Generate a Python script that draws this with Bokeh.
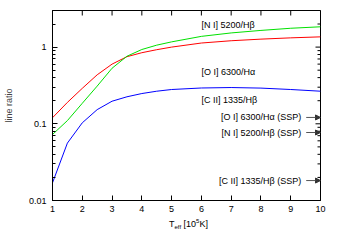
import math
from bokeh.plotting import figure
from bokeh.layouts import column
from bokeh.models import (Range1d, FixedTicker, Label, Arrow, NormalHead, Div,
                          ColumnDataSource, CustomJSTickFormatter)
from bokeh.embed import file_html
from bokeh.resources import INLINE

# ---- data ----
t_eff = [1, 1.5, 2, 2.5, 3, 3.5, 4, 4.5, 5, 6, 7, 8, 9, 10]
oi_ha = [0.12, 0.19, 0.29, 0.435, 0.6, 0.75, 0.845, 0.925, 1.0, 1.13, 1.21, 1.27, 1.32, 1.36]
ni_hb = [0.0725, 0.11, 0.185, 0.31, 0.53, 0.76, 0.93, 1.06, 1.17, 1.38, 1.53, 1.65, 1.76, 1.84]
cii_hb = [0.017, 0.056, 0.103, 0.153, 0.197, 0.225, 0.248, 0.266, 0.28, 0.293, 0.297, 0.292, 0.28, 0.266]

ssp_labels = ["[O I] 6300/H\u03b1 (SSP)", "[N I] 5200/H\u03b2 (SSP)", "[C II] 1335/H\u03b2 (SSP)"]
ssp_values = [0.121, 0.077, 0.0182]

x_ticks = [1, 2, 3, 4, 5, 6, 7, 8, 9, 10]
y_major = [0.01, 0.1, 1]
y_minor = [0.02, 0.03, 0.04, 0.05, 0.06, 0.07, 0.08, 0.09,
           0.2, 0.3, 0.4, 0.5, 0.6, 0.7, 0.8, 0.9, 2, 3]

FONT = "Liberation Sans"
FS = "9px"
X0, X1, Y0, Y1 = 1, 10, 0.01, 3

p = figure(width=330, height=217, output_backend="svg", toolbar_location=None,
           y_axis_type="log", x_range=Range1d(X0, X1), y_range=Range1d(Y0, Y1),
           min_border_left=45, min_border_right=10, min_border_top=10, min_border_bottom=17)
p.grid.visible = False
p.outline_line_color = "black"
p.background_fill_color = "white"

for ax in (p.xaxis[0], p.yaxis[0]):
    ax.axis_line_color = "black"
    ax.major_tick_in = 5
    ax.major_tick_out = 0
    ax.minor_tick_in = 3
    ax.minor_tick_out = 0
    ax.major_tick_line_color = "black"
    ax.minor_tick_line_color = "black"
    ax.major_label_text_font = FONT
    ax.major_label_text_font_size = FS
    ax.major_label_text_color = "black"

p.xaxis.ticker = FixedTicker(ticks=x_ticks)
p.xaxis.minor_tick_line_color = None
p.xaxis.major_label_standoff = 5

p.yaxis.formatter = CustomJSTickFormatter(code="return Number(tick.toPrecision(3)).toString()")
p.yaxis.major_label_standoff = 6
p.yaxis.axis_label = "line ratio"
p.yaxis.axis_label_text_font = FONT
p.yaxis.axis_label_text_font_size = FS
p.yaxis.axis_label_text_font_style = "normal"
p.yaxis.axis_label_standoff = 12

# mirrored ticks on the top and right edges (half of each dash is clipped by the frame)
p.scatter(x=x_ticks, y=[Y1] * len(x_ticks), marker="dash", size=10, angle=math.pi / 2,
          line_color="black", line_width=1)
p.scatter(x=[X1] * len(y_major), y=y_major, marker="dash", size=10,
          line_color="black", line_width=1)
p.scatter(x=[X1] * len(y_minor), y=y_minor, marker="dash", size=6,
          line_color="black", line_width=1)

src = ColumnDataSource(dict(x=t_eff, oi=oi_ha, ni=ni_hb, cii=cii_hb))
p.line("x", "oi", source=src, line_color="#ff0000", line_width=1)
p.line("x", "ni", source=src, line_color="#00e000", line_width=1)
p.line("x", "cii", source=src, line_color="#0000ff", line_width=1)

# curve labels
for txt, yv in [("[N I] 5200/H\u03b2", 1.97), ("[O I] 6300/H\u03b1", 0.467), ("[C II] 1335/H\u03b2", 0.207)]:
    p.add_layout(Label(x=6.0, y=yv, text=txt, text_baseline="middle",
                       text_font=FONT, text_font_size=FS, text_color="black"))

# SSP arrows
for txt, yv in zip(ssp_labels, ssp_values):
    p.add_layout(Arrow(x_start=9.52, y_start=yv, x_end=10, y_end=yv, line_color="#555555",
                       line_width=1, end=NormalHead(size=5, fill_color="#333333", line_color="#333333")))
    p.add_layout(Label(x=9.52, y=yv, x_offset=-5, text=txt, text_align="right",
                       text_baseline="middle", text_font=FONT, text_font_size=FS, text_color="black"))

# x-axis label: T_eff [10^5 K] as real HTML text below the plot
xlabel = Div(
    text='T<span style="font-size:6px;position:relative;top:2px">eff</span> [10'
         '<span style="font-size:6px;position:relative;top:-4px">5</span>K]',
    width=275, height=16, margin=(0, 0, 0, 51),
    styles={"font-family": FONT, "font-size": FS, "text-align": "center",
            "line-height": "14px", "color": "black"})

layout = column(p, xlabel, spacing=0)
open("out.html", "w").write(file_html(layout, INLINE))
